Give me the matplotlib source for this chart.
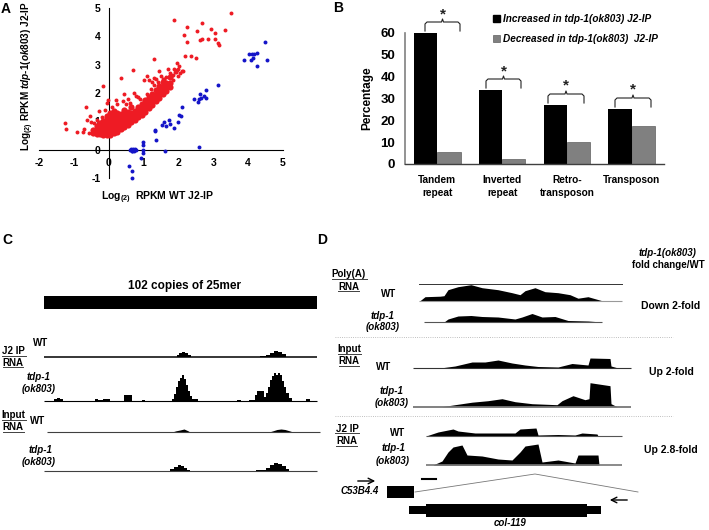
import matplotlib
matplotlib.use("Agg")
import matplotlib.pyplot as plt
from matplotlib.patches import Patch

plt.rcParams['font.family'] = 'Liberation Sans'
plt.rcParams['font.weight'] = 'bold'
plt.rcParams['mathtext.fontset'] = 'custom'
plt.rcParams['mathtext.rm'] = 'Liberation Sans:bold'
plt.rcParams['mathtext.it'] = 'Liberation Sans:italic:bold'
plt.rcParams['mathtext.bf'] = 'Liberation Sans:bold'
plt.rcParams['mathtext.default'] = 'rm'

W, H = 709, 530

# panel A, dense wedge read column by column
wedge_x = [-0.45, -0.35, -0.25, -0.15, -0.05, 0.05, 0.15, 0.25, 0.35, 0.45, 0.55, 0.65,
           0.75, 0.85, 0.95, 1.05, 1.15, 1.25, 1.35, 1.45, 1.55, 1.65, 1.75]
wedge_y = [[0.6, 0.68],
           [0.56, 0.64, 0.72, 0.82],
           [0.54, 0.62, 0.72, 0.82, 0.95],
           [0.53, 0.62, 0.72, 0.82, 0.92, 1.02],
           [0.52, 0.6, 0.7, 0.8, 0.9, 1.0, 1.1, 1.2],
           [0.52, 0.6, 0.7, 0.8, 0.9, 1.0, 1.1, 1.2, 1.3],
           [0.58, 0.68, 0.78, 0.88, 0.98, 1.08, 1.2, 1.38],
           [0.64, 0.74, 0.84, 0.94, 1.04, 1.14, 1.28],
           [0.72, 0.82, 0.92, 1.02, 1.12, 1.25],
           [0.8, 0.9, 1.0, 1.1, 1.22, 1.4],
           [0.88, 0.98, 1.08, 1.2, 1.32],
           [0.96, 1.06, 1.18, 1.3, 1.5],
           [1.04, 1.14, 1.26, 1.38],
           [1.14, 1.24, 1.36, 1.5],
           [1.24, 1.34, 1.46, 1.6],
           [1.34, 1.44, 1.56, 1.75],
           [1.46, 1.56, 1.68, 1.85],
           [1.58, 1.68, 1.8, 1.95],
           [1.72, 1.82, 1.94, 2.1],
           [1.84, 1.94, 2.06, 2.25],
           [1.96, 2.06, 2.2, 2.4],
           [2.08, 2.2, 2.35],
           [2.2, 2.35, 2.55]]

red_x = [3.52, 1.88, 2.69, 2.24, 2.93, 3.35, 2.53, 3.05, 2.16, 2.68, 2.63, 2.84, 3.04, 2.26, 3.14, 3.15,
         2.2, 2.36, 2.5, 1.31, 1.95, 0.69, 2.02, 1.86, 2.14, 1.69, 0.35, -0.15, 1.43, 1.11, 1.02, 1.3,
         1.6, 1.79, 1.93,
         -1.24, -1.22, -0.9, -0.74, -0.71, -0.66, -0.55, -0.61, -0.52, -0.57, -0.29, -0.02, -0.06,
         0.45, 0.55, 0.42, 0.5, 0.65, 0.72, 0.78, 0.85, 0.9, 1.0, 0.6, 0.25, 0.2, 0.1, -0.1,
         1.1, 1.2, 1.3, 1.4, 1.5, 1.55, 1.65, 1.75, 1.8, 1.85, 1.9, 1.95, 2.0, 1.6, 1.35, 1.25, 1.15,
         1.85, 1.98, 2.05, 2.1, -0.35, -0.42, -0.2]
red_y = [4.81, 4.56, 4.47, 4.34, 4.27, 4.24, 4.2, 4.13, 4.03, 3.91, 3.88, 3.91, 3.89, 3.79, 3.75, 3.71,
         3.32, 3.31, 3.23, 3.2, 3.07, 2.8, 2.95, 2.86, 2.77, 2.83, 2.53, 2.26, 2.77, 2.6, 2.45, 2.54,
         2.5, 2.62, 2.75,
         0.95, 0.74, 0.64, 0.64, 0.73, 1.5, 1.2, 1.03, 0.97, 0.6, 1.35, 1.76, 1.65,
         1.95, 1.8, 1.7, 1.6, 1.55, 2.0, 1.9, 1.85, 1.8, 1.75, 1.65, 1.6, 1.75, 1.5, 1.4,
         1.95, 2.15, 2.3, 2.4, 2.6, 2.5, 2.55, 2.7, 2.6, 2.65, 2.75, 2.8, 2.85, 2.45, 2.5, 2.4, 2.45,
         2.45, 2.6, 2.72, 2.78, 1.05, 0.95, 1.15]

blue_x = [4.48, 4.53, 3.89, 4.25, 4.25, 4.18, 4.02, 4.1, 4.13, 4.07, 3.13, 2.8, 2.61, 2.44, 2.57, 2.65,
          2.72, 2.8, 2.6, 2.11, 2.08, 2.02, 1.99, 1.88, 1.72, 1.75, 1.59, 1.64, 1.54, 1.33, 1.33, 1.36,
          0.99, 0.97, 2.6, 1.61, 0.97, 0.97, 0.92, 0.62, 0.65, 0.68, 0.7, 0.72, 0.75, 0.66, 0.72, 0.78,
          0.59, 0.68, 0.68]
blue_y = [3.79, 3.18, 3.18, 2.96, 3.42, 3.37, 3.37, 3.37, 3.25, 3.16, 2.27, 2.12, 1.97, 1.78, 1.68, 1.83,
          1.88, 1.83, 1.8, 1.5, 1.2, 1.24, 0.97, 0.76, 1.03, 0.89, 0.97, 0.82, 0.87, 0.7, 0.65, 0.34,
          0.27, 0.18, 0.08, -0.06, -0.01, -0.13, -0.3, 0, 0.03, -0.03, 0.04, 0, 0.03, -0.06, -0.05, 0,
          -0.56, -0.77, -0.99]

# panel B
repeat_names = ['Tandem\nrepeat', 'Inverted\nrepeat', 'Retro-\ntransposon', 'Transposon']
increased = [60, 34, 27, 25]
decreased = [5.5, 2.3, 10, 17.5]

# coverage tracks, positions and heights in picture pixels
c_wt_ip_pos = [176, 178, 180, 183, 186, 189, 192, 256, 264, 268, 272, 276, 280, 284, 288]
c_wt_ip_h = [0, 2, 4.5, 5.5, 4.5, 2.5, 0, 0, 1.5, 2, 4, 6, 5, 3, 0]
c_ko_ip_pos = [52, 55, 58, 61, 64, 93, 96, 100, 105, 108, 112, 123, 124, 131, 132, 140, 143, 147,
               170, 173, 175, 177, 179, 181, 183, 185, 187, 189, 191, 193, 196, 200,
               235, 238, 243, 254, 256, 258, 263, 265, 267, 269, 271, 273, 275, 277, 279, 281, 283, 285, 287, 290, 294,
               304, 308, 312]
c_ko_ip_h = [0, 2, 3, 2, 0, 0, 2, 1.5, 2.5, 2.5, 0, 0, 6, 6, 0, 0, 1.5, 0,
             0, 2, 7, 14, 20, 23, 26, 22, 16, 10, 5, 2.5, 2, 0,
             0, 1.5, 0, 1, 6, 10, 10, 4, 8, 14, 21, 25, 28, 26, 28, 26, 20, 14, 8, 3, 0,
             0, 2, 0]
c_wt_in_pos = [172, 176, 180, 184, 188, 190, 269, 273, 277, 281, 285, 290, 293]
c_wt_in_h = [0, 1.2, 2, 3, 1.2, 0, 0, 1.2, 2.5, 3, 2.5, 1, 0]
c_ko_in_pos = [168, 172, 176, 179, 182, 185, 188, 191, 254, 258, 264, 268, 272, 276, 280, 284, 288, 290]
c_ko_in_h = [0, 2, 4, 6, 5, 3.5, 1.5, 0, 0, 1.5, 1.5, 3, 6, 8, 7, 5, 2, 0]

d_wt_pa_pos = [420, 425, 440, 444, 448, 458, 471, 482, 498, 512, 520, 525, 535, 545, 558, 570, 578, 588, 602]
d_wt_pa_h = [0, 4, 4.5, 5, 11, 14, 16, 13, 11, 8, 6, 10, 13, 9, 8, 6, 2.5, 4, 0]
d_ko_pa_pos = [444, 448, 458, 471, 482, 498, 515, 522, 532, 542, 555, 568, 588, 602]
d_ko_pa_h = [0, 3, 6, 6.5, 5.5, 5, 3, 5, 8.5, 5, 5.5, 1.5, 1, 0]
d_wt_in_pos = [440, 455, 472, 485, 498, 512, 525, 538, 558, 572, 588, 590, 610, 611, 618]
d_wt_in_h = [0, 2, 6, 6, 8, 5, 3, 1.5, 1, 4.5, 3, 10, 9.5, 2, 0]
d_ko_in_pos = [442, 455, 472, 488, 502, 515, 532, 557, 562, 573, 585, 589, 590, 610, 611, 617]
d_ko_in_h = [0, 2, 4.5, 6, 8, 5, 3, 2, 6, 11, 7, 8, 24, 21, 3, 0]
d_wt_ip_pos = [426, 438, 453, 458, 475, 498, 515, 520, 536, 538, 558, 575, 582, 597, 598]
d_wt_ip_h = [0, 4, 7, 5, 3, 3, 3, 7, 8, 1, 1.5, 1, 3, 2, 0]
d_ko_ip_pos = [433, 442, 448, 453, 462, 467, 482, 498, 512, 520, 525, 538, 542, 558, 575, 578, 585, 598, 599]
d_ko_ip_h = [0, 4, 13, 18, 20, 10, 9, 6, 5, 13, 19, 21, 3, 5, 2, 10, 10, 10, 0]


def px_axes(fig, left, top, right, bottom):
    return fig.add_axes([left / W, 1 - bottom / H, (right - left) / W, (bottom - top) / H])


fig = plt.figure(figsize=(W / 100, H / 100), dpi=100)

# A
ax = px_axes(fig, 39, 8, 283, 178)
ax.set_xlim(-2, 5)
ax.set_ylim(-1, 5)
for s in ['top', 'right']:
    ax.spines[s].set_visible(False)
ax.spines['left'].set_position(('data', 0))
ax.spines['bottom'].set_position(('data', 0))
ax.spines['left'].set_linewidth(0.8)
ax.spines['bottom'].set_linewidth(0.8)
ax.set_xticks(range(-2, 6))
ax.set_xticklabels(['-2', '-1', '0', '1', '2', '3', '4', '5'], fontsize=7.5)
ax.set_yticks(range(-1, 6))
ax.set_yticklabels(['-1', '0', '1', '2', '3', '4', '5'], fontsize=7.5)
ax.tick_params(length=0, pad=6)
for x, ys in zip(wedge_x, wedge_y):
    ax.scatter([x] * len(ys), ys, s=20, c='#ee1b24', linewidths=0, zorder=3, clip_on=False)
ax.scatter(red_x, red_y, s=8, c='#ee1b24', linewidths=0, zorder=3, clip_on=False)
ax.scatter(blue_x, blue_y, s=8, c='#1414c8', linewidths=0, zorder=3, clip_on=False)

# B
bx = px_axes(fig, 405, 33, 664, 164)
pos = list(range(len(repeat_names)))
b1 = bx.bar([p - 0.18 for p in pos], increased, 0.36, color='black')
b2 = bx.bar([p + 0.18 for p in pos], decreased, 0.36, color='#808080', edgecolor='#606060', linewidth=0.5)
bx.set_xlim(-0.5, 3.5)
bx.set_ylim(0, 60)
bx.spines['top'].set_visible(False)
bx.spines['right'].set_visible(False)
bx.spines['left'].set_color('#808080')
bx.spines['left'].set_linewidth(1.2)
bx.spines['bottom'].set_color('#404040')
bx.spines['bottom'].set_linewidth(1)
bx.set_yticks(range(0, 61, 10))
bx.tick_params(axis='y', length=0, pad=7, labelsize=9.5)
bx.set_xticks(pos)
bx.set_xticklabels(repeat_names, fontsize=7.3, linespacing=1.35)
bx.tick_params(axis='x', length=0, pad=8)
bx.set_ylabel('Percentage', fontsize=8.5, fontweight='bold', labelpad=5)
fig.legend([Patch(color='black'), Patch(facecolor='#808080', edgecolor='#606060', linewidth=0.5)],
           ['Increased in tdp-1(ok803) J2-IP', 'Decreased in tdp-1(ok803)  J2-IP'],
           loc='upper left', bbox_to_anchor=(485 / W, 1 - 6 / H), frameon=False,
           prop={'size': 7.2, 'style': 'italic', 'weight': 'bold'},
           handlelength=0.7, handleheight=0.7, handletextpad=0.3, labelspacing=1.0,
           borderpad=0.3)

# overlay for tracks and labels, in picture pixels
ov = fig.add_axes([0, 0, 1, 1], zorder=5)
ov.set_xlim(0, W)
ov.set_ylim(H, 0)
ov.axis('off')
ov.patch.set_alpha(0)


def label(x, y, s, size=7, **kw):
    ov.text(x, y, s, fontsize=size, ha='center', va='center', **kw)


def track(pos, h, base, x0, x1, color='black', lw=0.8, step=None):
    ov.plot([x0, x1], [base, base], color=color, lw=lw, solid_capstyle='butt')
    ov.fill_between(pos, [base - v for v in h], base, color='black', lw=0, step=step)


def underlined(x, y, s, x0, x1, y_line, size=7):
    label(x, y, s, size)
    ov.plot([x0, x1], [y_line, y_line], color='#404040', lw=0.7)


def brace(x0, x1, top, bottom, star_y):
    mid = (x0 + x1) / 2
    ov.plot([x0, x0, x0 + 2, mid - 1, mid, mid + 1, x1 - 2, x1, x1],
            [bottom, top + 2, top, top, top - 3, top, top, top + 2, bottom], color='#222222', lw=0.8)
    ov.text(mid, star_y + 3, '*', fontsize=11, ha='center', va='center', color='#222222')


# panel letters
label(6, 9, 'A', 10)
label(338, 8, 'B', 10)
label(7, 240, 'C', 10)
label(322, 240, 'D', 10)

# A axis titles
label(157, 198, r'Log$_{(2)}$  RPKM WT J2-IP', 7.5)
label(28, 76, r'Log$_{(2)}$ RPKM $\mathit{tdp}$-$\mathit{1(ok803)}$ J2-IP', 7.2, rotation=90)

# B braces
brace(425, 460, 22, 31, 11)
brace(486, 521, 79, 88, 68)
brace(548, 584, 94, 103, 82)
brace(615, 651, 98, 107, 86)

# C
label(184, 286, '102 copies of 25mer', 8.5)
ov.fill_between([44, 317], 296, 309, color='black', lw=0)
track(c_wt_ip_pos, c_wt_ip_h, 357, 44, 317, lw=1.1, step='mid')
track(c_ko_ip_pos, c_ko_ip_h, 401, 44, 317, lw=0.8, step='mid')
track(c_wt_in_pos, c_wt_in_h, 432, 47, 320, color='#404040')
track(c_ko_in_pos, c_ko_in_h, 471, 44, 317, color='#404040', step='mid')
label(41, 343, 'WT')
underlined(13, 351, 'J2 IP', 2, 26, 356)
underlined(13, 363, 'RNA', 3, 23, 367)
label(39, 377, 'tdp-1', style='italic')
label(39, 389, '(ok803)', style='italic')
underlined(13, 415, 'Input', 2, 26, 420)
underlined(13, 427, 'RNA', 3, 24, 432)
label(38, 421, 'WT')
label(41, 450, 'tdp-1', style='italic')
label(39, 462, '(ok803)', style='italic')

# D
ov.plot([419, 622], [284, 284], color='#333333', lw=0.7)
track(d_wt_pa_pos, d_wt_pa_h, 300.7, 419, 622, color='#999999')
track(d_ko_pa_pos, d_ko_pa_h, 322, 424, 602, color='#555555')
ov.plot([335, 673], [337, 337], color='#aaaaaa', lw=0.6, ls=':')
track(d_wt_in_pos, d_wt_in_h, 368, 413, 631, color='#333333')
track(d_ko_in_pos, d_ko_in_h, 406.7, 413, 631, color='#777777', lw=1.3)
ov.plot([335, 673], [416, 416], color='#aaaaaa', lw=0.6, ls=':')
track(d_wt_ip_pos, d_wt_ip_h, 436, 426, 622, color='#555555')
track(d_ko_ip_pos, d_ko_ip_h, 465, 426, 622, color='#777777', lw=1.2)

label(668, 253, 'tdp-1(ok803)', style='italic')
label(668, 265, 'fold change/WT')
underlined(349, 274, 'Poly(A)', 332, 367, 279)
underlined(349, 287, 'RNA', 338, 359, 291)
label(389, 294, 'WT')
label(383, 316, 'tdp-1', style='italic')
label(383, 327, '(ok803)', style='italic')
label(671, 306, 'Down 2-fold', 7.5)
underlined(349, 349, 'Input', 338, 361, 354)
underlined(349, 361, 'RNA', 339, 359, 366)
label(384, 367, 'WT')
label(671, 372, 'Up 2-fold', 7.5)
label(392, 391, 'tdp-1', style='italic')
label(392, 403, '(ok803)', style='italic')
underlined(347, 429, 'J2 IP', 335, 359, 433)
underlined(347, 441, 'RNA', 336, 357, 446)
label(398, 433, 'WT')
label(394, 448, 'tdp-1', style='italic')
label(393, 461, '(ok803)', style='italic')
label(671, 450, 'Up 2.8-fold', 7.5)

# gene models
ov.annotate('', xy=(378, 481), xytext=(355, 481), arrowprops=dict(arrowstyle='->', lw=1, color='black'))
ov.annotate('', xy=(607, 500), xytext=(630, 500), arrowprops=dict(arrowstyle='->', lw=1, color='black'))
ov.plot([422, 436], [479, 479], color='black', lw=1.5)
ov.plot([415, 535, 638], [492, 474, 492], color='#777777', lw=0.6)
ov.fill_between([387, 414], 486, 498, color='black', lw=0)
ov.fill_between([409, 601], 506, 514, color='black', lw=0)
ov.fill_between([426, 587], 504, 517, color='black', lw=0)
label(360, 491, 'C53B4.4', style='italic')
label(510, 523, 'col-119', style='italic')

fig.savefig('out.png', dpi=100)
